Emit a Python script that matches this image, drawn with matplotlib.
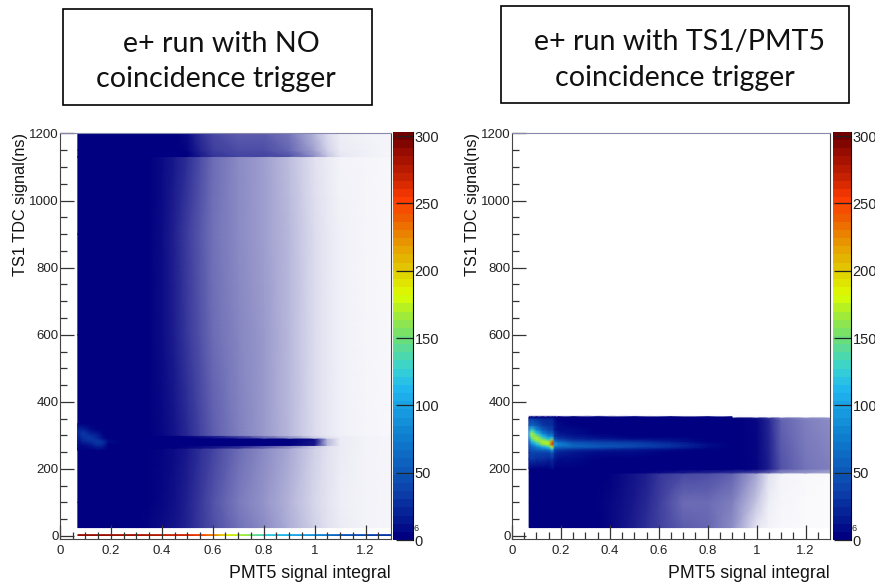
import numpy as np
import matplotlib
matplotlib.use("Agg")
import matplotlib.pyplot as plt
from matplotlib.colors import LinearSegmentedColormap
from matplotlib.patches import Rectangle
from matplotlib.cm import ScalarMappable
from matplotlib.colors import Normalize

plt.rcParams['font.family'] = ['Liberation Sans', 'DejaVu Sans']

W = 875
H = 584

# share of filled bins (1 = solid navy, 0 = white), rows are y nodes, columns x nodes
occ_x = [0.07, 0.30, 0.35, 0.40, 0.45, 0.50, 0.55, 0.60, 0.70, 0.80, 0.90, 1.00, 1.05, 1.10, 1.20, 1.30]

left_y = [25, 100, 262, 262, 270, 270, 292, 292, 300, 300, 600, 900, 1130, 1132, 1150, 1200]
left_occ = [
    [1, 1.00, .98, .95, .92, .86, .78, .70, .56, .46, .32, .18, .12, .08, .05, .04],
    [1, 1.00, .99, .97, .93, .87, .78, .68, .52, .42, .30, .16, .11, .07, .05, .04],
    [1, 1.00, .99, .98, .95, .90, .82, .74, .58, .46, .34, .18, .12, .08, .05, .04],
    [1, 1.00, 1.0, 1.0, 1.0, .97, .94, .90, .80, .62, .44, .20, .12, .08, .05, .04],
    [1, 1.00, 1.0, 1.0, 1.0, .98, .97, .94, .87, .72, .52, .24, .14, .08, .05, .04],
    [1, 1.00, 1.0, 1.0, 1.0, 1.0, 1.0, 1.0, 1.0, 1.0, 1.0, .90, .28, .08, .05, .04],
    [1, 1.00, 1.0, 1.0, 1.0, 1.0, 1.0, 1.0, 1.0, 1.0, 1.0, .95, .28, .08, .05, .04],
    [1, 1.00, 1.0, 1.0, 1.0, 1.0, .98, .95, .86, .66, .48, .22, .12, .08, .05, .04],
    [1, 1.00, 1.0, 1.0, 1.0, .95, .88, .82, .64, .46, .32, .16, .11, .07, .05, .04],
    [1, 1.00, .99, .97, .92, .84, .74, .64, .50, .40, .28, .14, .09, .06, .04, .03],
    [1, 1.00, .99, .95, .88, .78, .68, .58, .48, .40, .28, .14, .09, .06, .04, .03],
    [1, 1.00, .99, .95, .87, .76, .66, .56, .46, .38, .28, .14, .09, .06, .04, .03],
    [1, 1.00, .99, .96, .90, .82, .70, .58, .46, .38, .26, .12, .08, .05, .04, .03],
    [1, 1.00, 1.0, 1.0, 1.0, 1.0, .90, .80, .74, .74, .68, .44, .24, .10, .06, .04],
    [1, 1.00, 1.0, 1.0, 1.0, .98, .86, .76, .70, .70, .60, .36, .18, .08, .06, .04],
    [1, 1.00, 1.0, 1.0, 1.0, .96, .82, .72, .64, .64, .54, .28, .14, .07, .05, .04],
]

right_y = [25, 100, 188, 188, 200, 200, 345, 355, 355, 360]
right_occ = [
    [1, 1.00, 1.0, .97, .93, .88, .82, .75, .64, .60, .45, .10, .05, .03, .02, .02],
    [1, 1.00, .99, .97, .94, .90, .84, .76, .58, .58, .50, .22, .07, .04, .02, .02],
    [1, 1.00, 1.0, .99, .96, .92, .88, .80, .72, .70, .62, .35, .12, .05, .03, .02],
    [1, 1.00, 1.0, 1.0, 1.0, 1.0, .98, .95, .90, .85, .80, .70, .60, .45, .40, .35],
    [1, 1.00, 1.0, 1.0, 1.0, 1.0, 1.0, 1.0, 1.0, 1.0, 1.0, .98, .85, .62, .52, .45],
    [1, 1.00, 1.0, 1.0, 1.0, 1.0, 1.0, 1.0, 1.0, 1.0, 1.0, .98, .88, .68, .55, .50],
    [1, 1.00, 1.0, 1.0, 1.0, 1.0, 1.0, 1.0, 1.0, 1.0, 1.0, .97, .85, .62, .50, .45],
    [1, 1.00, 1.0, 1.0, 1.0, 1.0, 1.0, 1.0, 1.0, .99, .97, .92, .75, .55, .45, .40],
    [.4, .40, .30, .30, .25, .20, .15, .12, .08, .06, .04, .04, .03, .03, .02, .02],
    [0, 0, 0, 0, 0, 0, 0, 0, 0, 0, 0, 0, 0, 0, 0, 0],
]

# counts above the navy floor
right_hot_x = [0.07, 0.08, 0.10, 0.125, 0.15, 0.165, 0.175, 0.19, 0.25, 0.35, 0.50, 0.65, 0.80, 0.90]
right_hot_y = [200, 230, 250, 258, 266, 274, 282, 290, 298, 306, 316, 330, 350, 355]
right_hot = [
    [0, 0, 0, 0, 0, 8, 0, 0, 0, 0, 0, 0, 0, 0],
    [25, 32, 30, 25, 22, 30, 18, 12, 8, 5, 3, 2, 0, 0],
    [35, 42, 42, 40, 40, 60, 28, 22, 15, 12, 8, 4, 0, 0],
    [40, 50, 55, 65, 70, 105, 40, 35, 28, 22, 18, 12, 3, 0],
    [45, 60, 75, 100, 125, 185, 70, 65, 55, 50, 42, 30, 8, 0],
    [55, 80, 110, 160, 175, 265, 100, 80, 60, 48, 40, 30, 8, 0],
    [65, 110, 150, 175, 165, 235, 70, 55, 40, 32, 25, 18, 5, 0],
    [85, 140, 175, 150, 115, 140, 45, 32, 22, 18, 12, 8, 2, 0],
    [110, 165, 160, 110, 80, 80, 30, 22, 14, 10, 6, 4, 0, 0],
    [120, 170, 125, 80, 55, 55, 25, 16, 10, 6, 4, 2, 0, 0],
    [100, 130, 85, 55, 40, 40, 18, 12, 8, 5, 3, 2, 0, 0],
    [55, 65, 50, 35, 28, 28, 14, 10, 6, 4, 2, 0, 0, 0],
    [30, 35, 28, 22, 20, 20, 10, 6, 4, 2, 0, 0, 0, 0],
    [0, 0, 0, 0, 0, 0, 0, 0, 0, 0, 0, 0, 0, 0],
]

left_hot_x = [0.07, 0.09, 0.12, 0.15, 0.17, 0.19, 0.25, 0.35]
left_hot_y = [255, 272, 282, 292, 305, 318, 335]
left_hot = [
    [0, 0, 0, 0, 0, 0, 0, 0],
    [10, 12, 18, 28, 24, 6, 5, 0],
    [12, 20, 30, 34, 26, 8, 6, 0],
    [18, 26, 34, 24, 12, 5, 3, 0],
    [24, 36, 24, 13, 6, 2, 0, 0],
    [24, 24, 12, 6, 3, 0, 0, 0],
    [0, 0, 0, 0, 0, 0, 0, 0],
]

# thin coloured strip along the bottom of the left panel
strip_x = [0.07, 0.30, 0.50, 0.55, 0.60, 0.65, 0.70, 0.80, 0.90, 1.00, 1.10, 1.30]
strip_val = [285, 280, 265, 250, 225, 190, 170, 125, 105, 85, 50, 25]

major_x = [0, 0.2, 0.4, 0.6, 0.8, 1.0, 1.2]
major_x_labels = ['0', '0.2', '0.4', '0.6', '0.8', '1', '1.2']
major_y = [0, 200, 400, 600, 800, 1000, 1200]
cbar_ticks = [0, 50, 100, 150, 200, 250, 300]

palette = ['#000080', '#0a3aa6', '#0c5cbc', '#1088d4', '#20b8f0', '#38d4d0', '#70e070',
           '#a8ec30', '#dcff00', '#e2c800', '#e89000', '#f05800', '#ff3c00', '#c42000',
           '#960c00', '#6e0000']
palette_pos = [0, .10, .17, .27, .37, .42, .50, .56, .60, .67, .74, .80, .84, .90, .96, 1]
root_cmap = LinearSegmentedColormap.from_list('root', list(zip(palette_pos, palette)), N=50)
fill_cmap = LinearSegmentedColormap.from_list('fill', ['#ffffff', '#000080'])
norm = Normalize(0, 303)


def px_axes(x0, y0, x1, y1):
    return fig.add_axes([x0 / W, 1 - y1 / H, (x1 - x0) / W, (y1 - y0) / H])


fig = plt.figure(figsize=(W / 100, H / 100), dpi=100)

panels = [
    (60, 391, 393, 413, left_y, left_occ, left_hot_x, left_hot_y, left_hot),
    (512, 830, 833, 851, right_y, right_occ, right_hot_x, right_hot_y, right_hot),
]

for i, (x0, x1, c0, c1, occ_y, occ, hot_x, hot_y, hot) in enumerate(panels):
    ax = px_axes(x0, 133.5, x1, 539)
    ax.pcolormesh(occ_x, occ_y, np.array(occ), cmap=fill_cmap, vmin=0, vmax=1, shading='gouraud')
    ax.pcolormesh(hot_x, hot_y, np.array(hot), cmap=root_cmap, norm=norm, shading='gouraud')
    if i == 0:
        ax.pcolormesh(strip_x, [1.5, 3.5], np.array([strip_val, strip_val]), cmap=root_cmap, norm=norm,
                      shading='gouraud')
    ax.set_xlim(0, 1.3)
    ax.set_ylim(-9, 1200)
    ax.set_xticks(major_x)
    ax.set_xticklabels(major_x_labels)
    ax.set_yticks(major_y)
    ax.set_xticks(np.arange(0, 1.3, 0.05), minor=True)
    ax.set_yticks(np.arange(0, 1201, 50), minor=True)
    ax.tick_params(which='major', direction='in', length=10, width=0.9, color='#333333',
                   labelsize=9.5, labelcolor='#222222', pad=4)
    ax.tick_params(which='minor', direction='in', length=5, width=0.9, color='#333333')
    ax.tick_params(axis='y', pad=1)
    for s in ['left', 'bottom', 'right']:
        ax.spines[s].set_color('#444444')
    ax.spines['top'].set_color('#8888aa')
    ax.set_xlabel('PMT5 signal integral', fontsize=12.8, loc='right', labelpad=6, color='#111111')
    ax.set_ylabel('TS1 TDC signal(ns)', fontsize=11.7, loc='top', labelpad=1, color='#111111')

    cax = px_axes(c0, 132, c1, 540)
    cb = fig.colorbar(ScalarMappable(norm=norm, cmap=root_cmap), cax=cax, ticks=cbar_ticks)
    cb.outline.set_visible(False)
    cax.tick_params(direction='in', length=12, width=0.9, color='#222222', labelsize=10.5,
                    labelcolor='#222222', pad=1)
    cax.spines['right'].set_visible(True)
    cax.text(1.03, 0.027, '6', transform=cax.transAxes, fontsize=6.5, color='#222222', va='center')

# the two pasted title boxes, each line placed by its centre and baseline in pixels
boxes = [(63, 9, 372, 105), (501, 6, 849, 103)]
title_lines = [
    ('e+ run with NO', 221, 52),
    ('coincidence trigger', 216, 87),
    ('e+ run with TS1/PMT5', 679, 50),
    ('coincidence trigger', 675, 86),
]
for x0, y0, x1, y1 in boxes:
    fig.add_artist(Rectangle((x0 / W, 1 - y1 / H), (x1 - x0) / W, (y1 - y0) / H,
                             transform=fig.transFigure, fill=False, ec='black', lw=1.2))
for txt, cx, cy in title_lines:
    fig.text(cx / W, 1 - cy / H, txt, ha='center', va='baseline', fontsize=20.6,
             family=['Lato', 'DejaVu Sans'], color='#111111')

fig.savefig('out.png', dpi=100)
